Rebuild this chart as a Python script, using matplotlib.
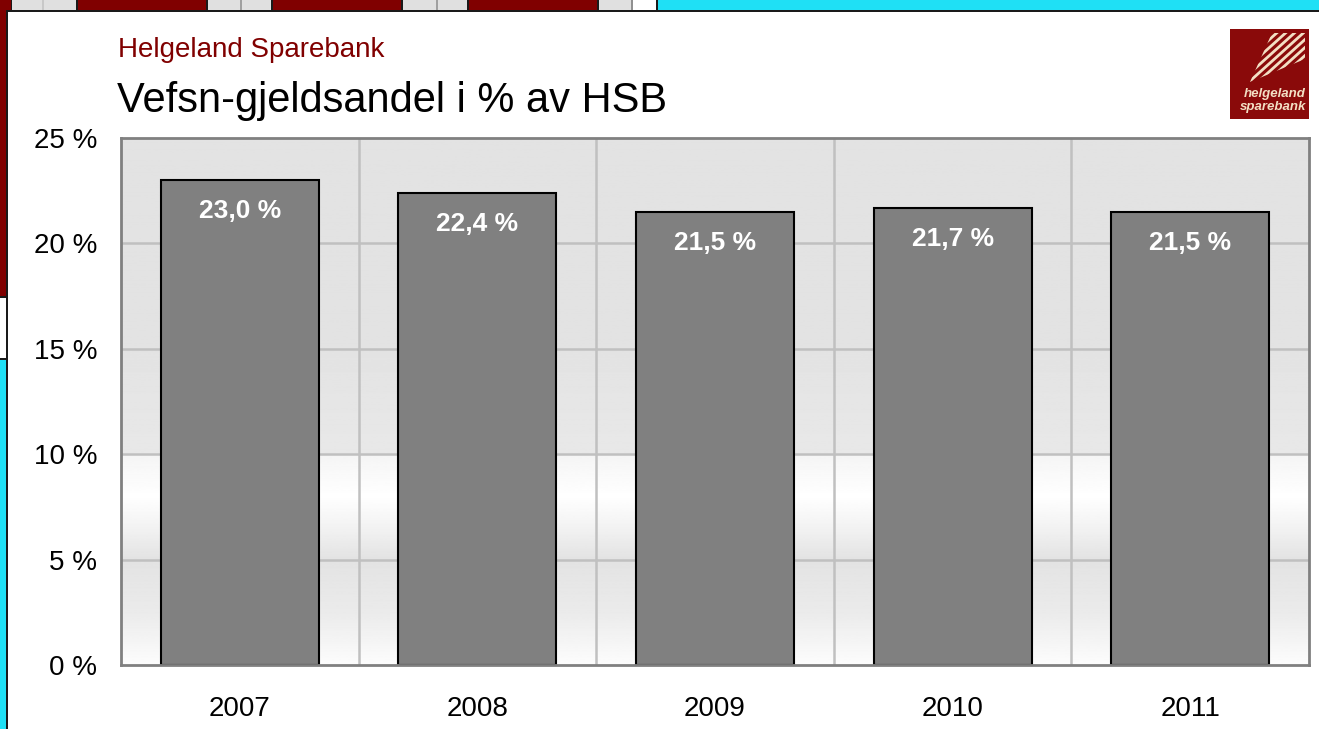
import numpy as np
import matplotlib.pyplot as plt
from matplotlib.patches import Rectangle, Polygon

plt.rcParams['font.family'] = ['Liberation Sans', 'DejaVu Sans']

years = ['2007', '2008', '2009', '2010', '2011']
andel = [23.0, 22.4, 21.5, 21.7, 21.5]
yticks = [0, 5, 10, 15, 20, 25]
ytick_labels = ['0 %', '5 %', '10 %', '15 %', '20 %', '25 %']

bank_red = '#800000'

W, H = 1319, 729
fig = plt.figure(figsize=(W / 100, H / 100), dpi=100)
fig.patch.set_facecolor('white')

def px_rect(x0, y0, x1, y1, color, z=0):
    # rectangle given in pixels from top-left corner
    fig.patches.append(Rectangle((x0 / W, 1 - y1 / H), (x1 - x0) / W, (y1 - y0) / H,
                                 transform=fig.transFigure, facecolor=color,
                                 edgecolor='none', zorder=z))

# bits of the slide behind, top strip and left edge
strip = [(0, 11, bank_red), (12, 76, '#e0e0e0'), (78, 206, bank_red), (208, 271, '#e0e0e0'),
         (273, 401, bank_red), (403, 467, '#e0e0e0'), (469, 597, bank_red),
         (599, 631, '#e0e0e0'), (633, 656, 'white'), (658, 1319, '#1fe0f5')]
px_rect(0, 0, 1319, 11, '#1a1a1a')
for x0, x1, c in strip:
    px_rect(x0, 0, x1, 10, c, 1)
px_rect(240, 0, 242, 10, '#a0a0a0', 2)
px_rect(436, 0, 438, 10, '#a0a0a0', 2)
px_rect(42, 0, 44, 10, '#c8c8c8', 2)
px_rect(631, 0, 633, 10, '#909090', 2)
px_rect(0, 0, 6, 296, bank_red, 1)
px_rect(0, 296, 6, 298, '#1a1a1a', 1)
px_rect(0, 298, 6, 358, 'white', 1)
px_rect(0, 358, 6, 360, '#1a1a1a', 1)
px_rect(0, 360, 6, 729, '#1fe0f5', 1)
px_rect(6, 10, 8, 729, '#1a1a1a', 2)
px_rect(6, 10, 1319, 12, '#1a1a1a', 2)

# titles
fig.text(118 / W, 1 - 57 / H, 'Helgeland Sparebank', color=bank_red, fontsize=20, va='baseline')
fig.text(117 / W, 1 - 112 / H, 'Vefsn-gjeldsandel i % av HSB', color='black', fontsize=30, va='baseline')

# logo
lx0, ly0, lx1, ly1 = 1230, 29, 1309, 119
logo = fig.add_axes([lx0 / W, 1 - ly1 / H, (lx1 - lx0) / W, (ly1 - ly0) / H])
logo.set_xlim(0, 79)
logo.set_ylim(90, 0)
logo.axis('off')
logo.add_patch(Rectangle((0, 0), 79, 90, facecolor='#8a0a0a', edgecolor='none', zorder=0))
cream = '#f3dfc4'
clip = Polygon([(42, 4), (75, 4), (75, 30), (20, 53)], closed=True, facecolor='none',
               edgecolor='none', transform=logo.transData)
logo.add_patch(clip)
xs = np.array([0, 79])
for b in [46, 54, 62, 70, 78, 86, 94]:
    ln, = logo.plot(xs, b - 0.9 * xs, color=cream, lw=2.0, solid_capstyle='butt', zorder=1)
    ln.set_clip_path(clip)
logo.text(76, 65, 'helgeland', color=cream, fontsize=9.5, fontstyle='italic',
          fontweight='bold', ha='right', va='center', zorder=2)
logo.text(76, 78, 'sparebank', color=cream, fontsize=9.5, fontstyle='italic',
          fontweight='bold', ha='right', va='center', zorder=2)

# main chart
ax = fig.add_axes([121 / W, 1 - 665 / H, (1309 - 121) / W, (665 - 138) / H])
x = np.arange(len(years))
ax.set_xlim(-0.5, len(years) - 0.5)
ax.set_ylim(0, 25)

# background shading of the plot area
yy = np.linspace(0, 25, 600)
lev = np.interp(yy, [0, 2.5, 4.95, 5.05, 6.5, 8, 9.95, 10.05, 15, 25],
                [0.99, 0.92, 0.89, 0.89, 0.95, 1.0, 0.96, 0.91, 0.89, 0.89])
grad = np.repeat(lev[:, None], 2, axis=1)
ax.imshow(grad, cmap='gray', vmin=0, vmax=1, origin='lower', aspect='auto',
          extent=(-0.5, len(years) - 0.5, 0, 25), zorder=0)

for yv in yticks[1:-1]:
    ax.axhline(yv, color='#c0c0c0', lw=1.8, zorder=1)
for xv in x[:-1] + 0.5:
    ax.axvline(xv, color='#c0c0c0', lw=1.8, zorder=1)

bars = ax.bar(x, andel, width=0.665, color='#808080', edgecolor='black', linewidth=1.5, zorder=2)
for xi, v in zip(x, andel):
    ax.annotate(f'{v:.1f} %'.replace('.', ','), (xi, v), xytext=(0, -22.5), textcoords='offset points',
                ha='center', va='center', color='white', fontsize=19, fontweight='bold', zorder=3)

ax.set_yticks(yticks)
ax.set_yticklabels(ytick_labels)
ax.set_xticks(x)
ax.set_xticklabels(years)
ax.tick_params(axis='y', length=0, pad=17, labelsize=20)
ax.tick_params(axis='x', length=0, pad=22, labelsize=20)
for s in ax.spines.values():
    s.set_color('#808080')
    s.set_linewidth(2)

fig.savefig('out.png', dpi=100)
